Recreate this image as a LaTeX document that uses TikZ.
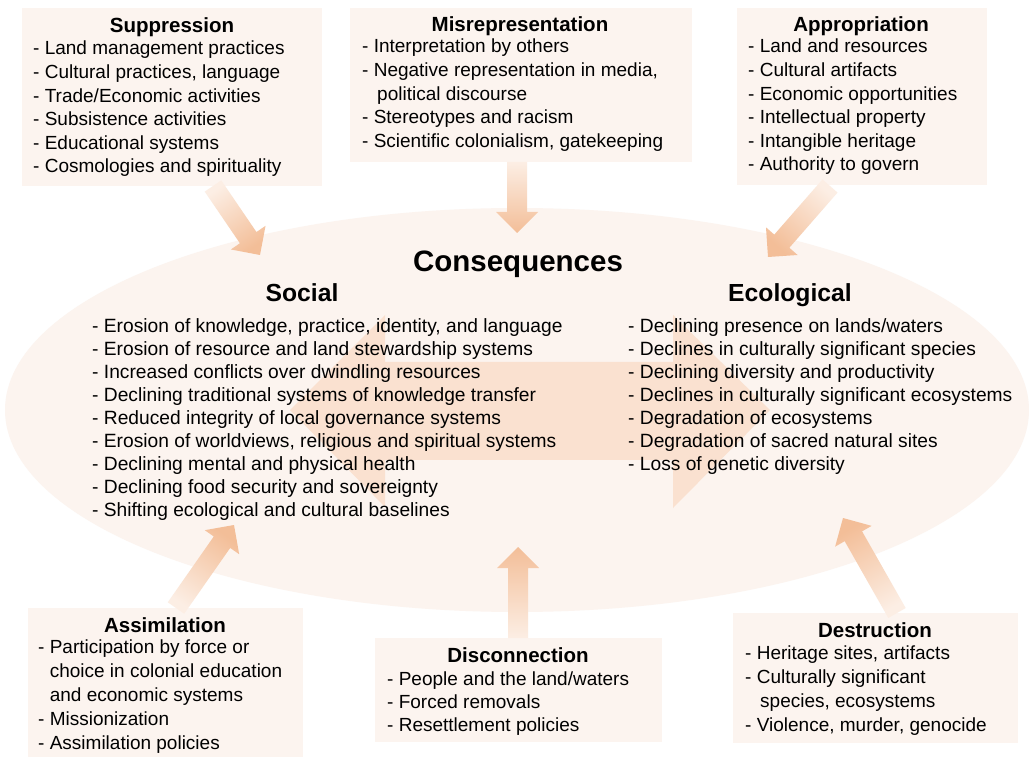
\documentclass[tikz,border=0pt]{standalone}
\usepackage{fontspec}
\setmainfont{Liberation Sans}
\usetikzlibrary{calc}
\definecolor{boxfill}{RGB}{252,244,239}
\definecolor{ellfill}{RGB}{252,244,239}
\definecolor{arrowhead}{RGB}{243,190,152}
\definecolor{arrowtail}{RGB}{252,238,228}
\definecolor{dblarrow}{RGB}{250,225,208}
\newcommand{\blockarr}[3]{%
  \coordinate (#2-base) at ($(#2)!21pt!(#1)$);
  \shade[bottom color=arrowtail, top color=arrowhead, shading angle=#3]
    ($(#1)!10pt!90:(#2)$) -- ($(#2-base)!10pt!-90:(#1)$) -- ($(#2-base)!21pt!-90:(#1)$)
    -- (#2) -- ($(#2-base)!21pt!90:(#1)$) -- ($(#2-base)!10pt!90:(#1)$)
    -- ($(#1)!10pt!-90:(#2)$) -- cycle;
}
\begin{document}
\begin{tikzpicture}[x=1pt,y=-1pt,
  panel/.style={fill=boxfill, draw=none, inner sep=0pt, anchor=north west},
  ttl/.style={font=\fontsize{20.5}{24}\selectfont\bfseries, inner sep=0pt, anchor=base},
  lst/.style={font=\fontsize{19}{23.6}\selectfont, align=left, inner sep=0pt, anchor=north west},
  clst/.style={font=\fontsize{19.2}{23.1}\selectfont, align=left, inner sep=0pt, anchor=north west},
  head/.style={font=\fontsize{24.7}{28}\selectfont\bfseries, inner sep=0pt, anchor=base}
]
\useasboundingbox (0,0) rectangle (1029,759);
\fill[white] (0,0) rectangle (1029,759);

% central ellipse
\fill[ellfill] (517,410) ellipse [x radius=512pt, y radius=202pt];
\coordinate (ell) at (517,410);

% double arrow
\fill[dblarrow] (290,410) -- (385,315) -- (385,362) -- (673,362) -- (673,315)
  -- (770,410) -- (673,508) -- (673,460) -- (385,460) -- (385,507) -- cycle;

% boxes
\node[panel, minimum width=300pt, minimum height=178pt] (supbox) at (22,8) {};
\node[panel, minimum width=342pt, minimum height=154pt] (misbox) at (350,8) {};
\node[panel, minimum width=250pt, minimum height=177pt] (appbox) at (737,8) {};
\node[panel, minimum width=275pt, minimum height=149pt] (assbox) at (28,608) {};
\node[panel, minimum width=287pt, minimum height=104pt] (disbox) at (375,638) {};
\node[panel, minimum width=285pt, minimum height=130pt] (desbox) at (733,613) {};

% arrow end points
\coordinate (supT) at (213,186);  \coordinate (supH) at (260,255);
\coordinate (misT) at (517,162);  \coordinate (misH) at (517,233);
\coordinate (appT) at (830,186);  \coordinate (appH) at (768,257);
\coordinate (assT) at (176,608);  \coordinate (assH) at (234,525);
\coordinate (disT) at (518,638);  \coordinate (disH) at (518,547);
\coordinate (desT) at (897,613);  \coordinate (desH) at (843,518);

\blockarr{supT}{supH}{-145.7}
\blockarr{misT}{misH}{-180}
\blockarr{appT}{appH}{138.9}
\blockarr{assT}{assH}{-34.9}
\blockarr{disT}{disH}{0}
\blockarr{desT}{desH}{29.6}

% box texts
\node[ttl] (supt) at (172,33) {Suppression};
\node[lst] (supl) at (33,41) {- Land management practices\\- Cultural practices, language\\- Trade/Economic activities\\- Subsistence activities\\- Educational systems\\- Cosmologies and spirituality};

\node[ttl] (mist) at (520,32) {Misrepresentation};
\node[lst] (misl) at (362,39) {- Interpretation by others\\- Negative representation in media,\\\hspace*{15pt}political discourse\\- Stereotypes and racism\\- Scientific colonialism, gatekeeping};

\node[ttl] (appt) at (861,32) {Appropriation};
\node[lst] (appl) at (748,39) {- Land and resources\\- Cultural artifacts\\- Economic opportunities\\- Intellectual property\\- Intangible heritage\\- Authority to govern};

\node[ttl] (asst) at (165,632) {Assimilation};
\node[lst, font=\fontsize{19}{24}\selectfont] (assl) at (38,640) {- Participation by force or\\\hspace*{11.6pt}choice in colonial education\\\hspace*{11.6pt}and economic systems\\- Missionization\\- Assimilation policies};

\node[ttl] (dist) at (518,662) {Disconnection};
\node[lst, font=\fontsize{19}{23}\selectfont] (disl) at (387,672) {- People and the land/waters\\- Forced removals\\- Resettlement policies};

\node[ttl] (dest) at (875,637) {Destruction};
\node[lst, font=\fontsize{19}{24}\selectfont] (desl) at (745,646) {- Heritage sites, artifacts\\- Culturally significant\\\hspace*{15pt}species, ecosystems\\- Violence, murder, genocide};

% consequences
\node[font=\fontsize{29.5}{32}\selectfont\bfseries, inner sep=0pt, anchor=base] (cons) at (518,272) {Consequences};
\node[head] (soc) at (302,302) {Social};
\node[head] (eco) at (790,302) {Ecological};
\node[clst] (socl) at (92,318) {- Erosion of knowledge, practice, identity, and language\\- Erosion of resource and land stewardship systems\\- Increased conflicts over dwindling resources\\- Declining traditional systems of knowledge transfer\\- Reduced integrity of local governance systems\\- Erosion of worldviews, religious and spiritual systems\\- Declining mental and physical health\\- Declining food security and sovereignty\\- Shifting ecological and cultural baselines};
\node[clst] (ecol) at (628,318) {- Declining presence on lands/waters\\- Declines in culturally significant species\\- Declining diversity and productivity\\- Declines in culturally significant ecosystems\\- Degradation of ecosystems\\- Degradation of sacred natural sites\\- Loss of genetic diversity};
\end{tikzpicture}
\end{document}
